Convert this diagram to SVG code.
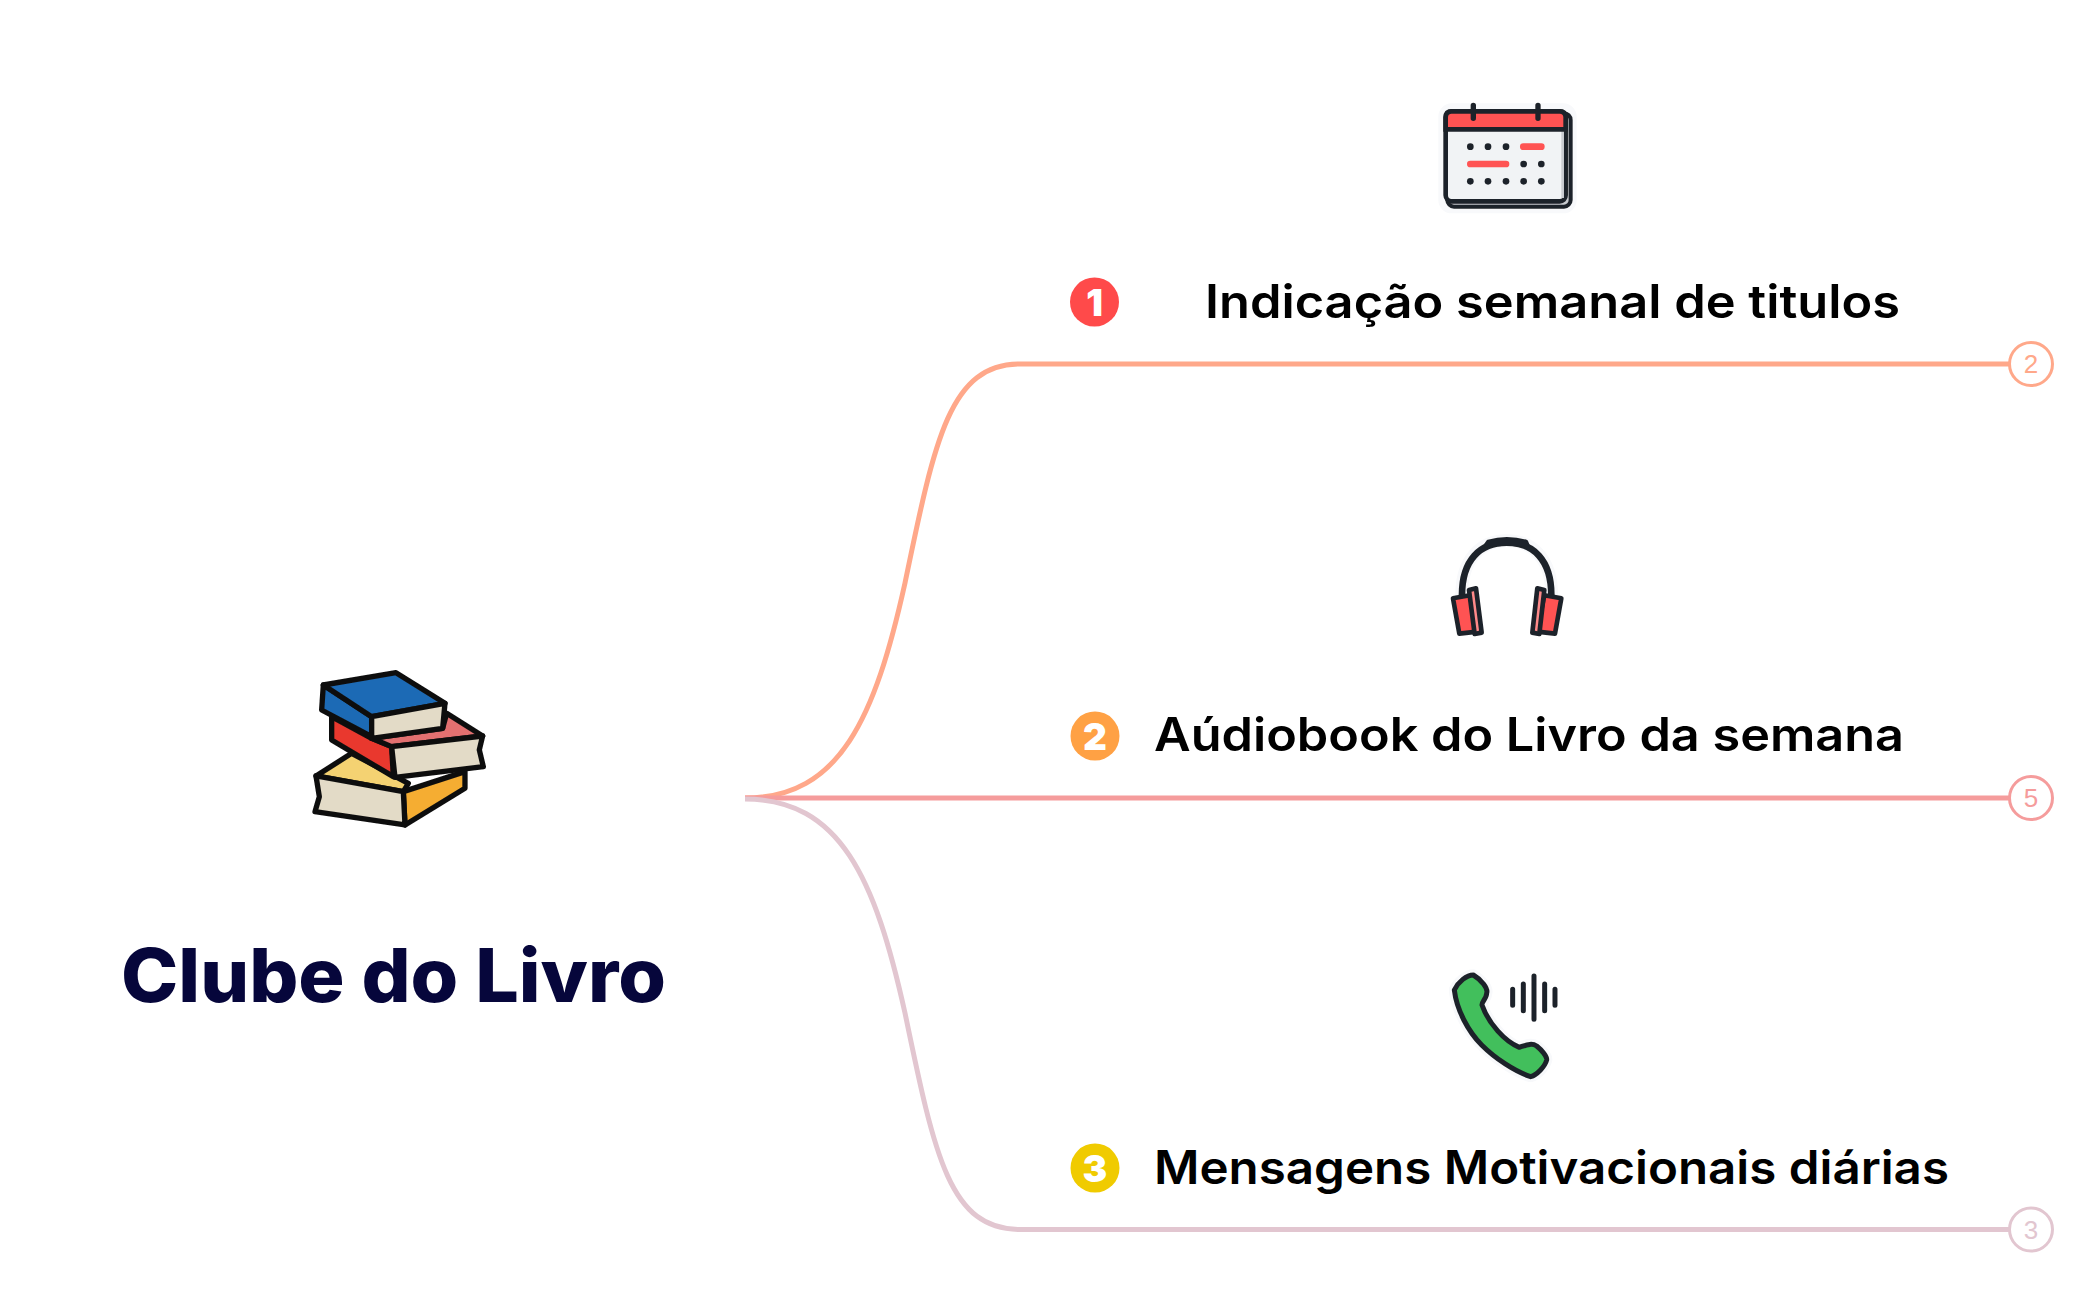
<svg xmlns="http://www.w3.org/2000/svg" width="2095" height="1300" viewBox="0 0 2095 1300">
<defs><filter id="soft" x="-5%" y="-5%" width="110%" height="110%"><feGaussianBlur stdDeviation="1.500"/></filter></defs>
<style>
.t{font-family:Inter,"Open Sans","Liberation Sans",sans-serif;font-weight:600;font-size:46px;fill:#000}
.b{font-family:Inter,"Liberation Sans",sans-serif;font-weight:900;font-size:37px;fill:#fff;text-anchor:middle}
.e{fill:#fff;stroke-width:3}
.n{font-family:"Liberation Sans",sans-serif;font-size:26px;text-anchor:middle}
.c{fill:none;stroke-width:5}
.k{stroke:#1f2329;stroke-linejoin:round;stroke-linecap:round}
.h{fill:none;stroke:#f8f9fb;stroke-linejoin:round;stroke-linecap:round}
</style>
<g id="connectors">
<path class="c" stroke="#ffa88a" d="M745 798C840 798 875 718 905 583C935 438 950 364 1020 364L2010 364"/>
<path class="c" stroke="#f59c9c" d="M745 798L2010 798"/>
<path class="c" stroke="#e2c6d0" d="M745 799C840 799 875 878 905 1013C935 1158 950 1229.500 1020 1229.500L2010 1229.500"/>
</g>
<g id="root">
<g transform="translate(290 650) scale(.3333)" filter="url(#soft)">
<g stroke="#111" stroke-width="16" stroke-linejoin="round">
<path fill="#f4d272" d="M78 378L185 310L355 400L340 425Z"/>
<path fill="#f5ad32" d="M340 425L525 365L525 415L345 525Z"/>
<path fill="#e3dbc7" d="M78 378L340 425L345 525L75 485L88 440Z"/>
<path fill="#e9392f" d="M125 200L245 265L305 290L310 380L125 270Z"/>
<path fill="#e27070" d="M245 265L458 235L470 190L578 258L305 290Z"/>
<path fill="#e3dbc7" d="M305 290L578 258L568 300L580 350L315 382Z"/>
<path fill="#1f6bb5" d="M100 105L245 200L245 260L95 180Z"/>
<path fill="#1f6bb5" d="M100 105L318 68L465 160L245 200Z"/>
<path fill="#e3dbc7" d="M245 200L465 160L458 235L245 265Z"/>
</g>
</g>
<text x="121" y="1002" textLength="545" lengthAdjust="spacingAndGlyphs" style="font-family:Inter,'Liberation Sans',sans-serif;font-weight:800;font-size:74px;fill:#06063b">Clube do Livro</text>
</g>
<g id="node-1">
<g transform="translate(1400 80) scale(.3333)" filter="url(#soft)">
<rect class="h" x="125" y="80" width="395" height="310" rx="30" stroke-width="20"/>
<rect x="142" y="100" width="370" height="280" rx="20" fill="#c8cbd0" stroke="#1f2329" stroke-width="12"/>
<rect x="137" y="94" width="360" height="270" rx="18" fill="#f1f3f5" stroke="#1f2329" stroke-width="14"/>
<rect x="484" y="152" width="8" height="202" fill="#c9ccd1"/>
<path d="M137 148V112Q137 94 155 94H479Q497 94 497 112V148Z" fill="#ff5252" stroke="#1f2329" stroke-width="14"/>
<path d="M220 76V115M414 76V115" class="k" stroke-width="16" fill="none"/>
<g fill="#1f2329"><circle cx="211" cy="200" r="10"/><circle cx="264" cy="200" r="10"/><circle cx="318" cy="200" r="10"/><circle cx="371" cy="252" r="10"/><circle cx="424" cy="252" r="10"/><circle cx="211" cy="304" r="10"/><circle cx="264" cy="304" r="10"/><circle cx="318" cy="304" r="10"/><circle cx="371" cy="304" r="10"/><circle cx="424" cy="304" r="10"/></g>
<rect x="360" y="190" width="74" height="20" rx="10" fill="#ff5252"/>
<rect x="201" y="242" width="127" height="20" rx="10" fill="#ff5252"/>
</g>
<circle cx="1094.500" cy="302" r="24.500" fill="#ff4a4a"/>
<text class="b" x="1094.500" y="316">1</text>
<text class="t" x="1205" y="318" textLength="695" lengthAdjust="spacingAndGlyphs">Indicação semanal de titulos</text>
<circle class="e" cx="2031" cy="364" r="21.500" stroke="#ffa88a"/>
<text class="n" x="2031" y="373" fill="#ffa88a">2</text>
</g>
<g id="node-2">
<g transform="translate(1420 520) scale(.3333)" filter="url(#soft)">
<path class="h" d="M125 225C125 120 180 62 260 62C340 62 395 120 395 225" stroke-width="38"/>
<path d="M126 225C126 120 180 68 260 68C340 68 394 120 394 225" fill="none" stroke="#1f2329" stroke-width="20"/>
<path d="M205 66Q260 50 318 66L322 76Q260 64 198 76Z" stroke="#1f2329" stroke-width="14" fill="#1f2329" stroke-linejoin="round"/>
<g class="k" stroke-width="14">
<path fill="#ff5252" d="M99 235L150 226L172 335L118 341Z"/>
<path fill="#ff8a8a" d="M147 210L168 205L185 338L164 342Z"/>
<path fill="#ff5252" d="M424 235L373 226L351 335L405 341Z"/>
<path fill="#ff8a8a" d="M373 210L352 205L337 338L358 342Z"/>
</g>
</g>
<circle cx="1095" cy="736" r="24.500" fill="#ffa144"/>
<text class="b" x="1095" y="750">2</text>
<text class="t" x="1154" y="751" textLength="750" lengthAdjust="spacingAndGlyphs">Aúdiobook do Livro da semana</text>
<circle class="e" cx="2031" cy="798" r="21.500" stroke="#f59c9c"/>
<text class="n" x="2031" y="807" fill="#f59c9c">5</text>
</g>
<g id="node-3">
<g transform="translate(1420 960) scale(.3333)" filter="url(#soft)">
<path class="h" d="M103 90C115 65 140 45 160 45C185 60 205 85 200 100C200 115 185 125 186 135C205 190 255 245 298 262C320 255 335 248 350 258C365 270 382 290 380 300C375 320 350 345 332 350C285 335 225 295 185 255C145 215 110 150 103 90Z" stroke-width="34" fill="#f8f9fb"/>
<path d="M103 90C115 65 140 45 160 45C185 60 205 85 200 100C200 115 185 125 186 135C205 190 255 245 298 262C320 255 335 248 350 258C365 270 382 290 380 300C375 320 350 345 332 350C285 335 225 295 185 255C145 215 110 150 103 90Z" fill="#43bf5c" stroke="#1f2329" stroke-width="15" stroke-linejoin="round"/>
<path d="M278 88V136M310 72V152M342 48V178M374 72V152M405 88V136" class="k" stroke-width="15" fill="none"/>
</g>
<circle cx="1095" cy="1168" r="24.500" fill="#f0cb00"/>
<text class="b" x="1095" y="1182">3</text>
<text class="t" x="1154" y="1184" textLength="795" lengthAdjust="spacingAndGlyphs">Mensagens Motivacionais diárias</text>
<circle class="e" cx="2031" cy="1229.500" r="21.500" stroke="#e2c6d0"/>
<text class="n" x="2031" y="1238.500" fill="#e2c6d0">3</text>
</g>
</svg>
